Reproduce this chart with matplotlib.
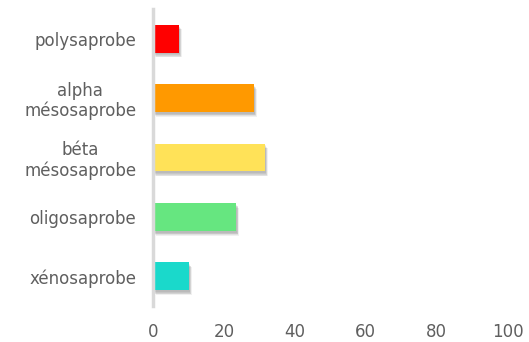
import matplotlib.pyplot as plt
import numpy as np

categories = ["polysaprobe", "alpha\nmésosaprobe", "béta\nmésosaprobe", "oligosaprobe", "xénosaprobe"]
values = [7.3, 28.4, 31.5, 23.4, 10.1]
colors = ["#FF0000", "#FF9900", "#FFE258", "#66E680", "#1AD9CB"]
xticks = [0, 20, 40, 60, 80, 100]

plt.rcParams['font.family'] = ['DejaVu Sans']

fig = plt.figure(figsize=(5.29, 3.42), dpi=100)
ax = fig.add_axes([0.289, 0.105, 0.671, 0.869])

y = np.arange(len(categories))
h = 0.47

# soft shadow: several faint offset layers
for k in range(1, 6):
    ax.barh(y + 0.012 * k + 0.02, values, height=h, left=0.12 * k + 0.2,
            color="black", alpha=0.06, linewidth=0, zorder=1)

ax.barh(y, values, height=h, color=colors, linewidth=0, zorder=2)

ax.set_ylim(4.5, -0.5)
ax.set_xlim(0, 100)
ax.set_xticks(xticks)
ax.set_yticks(y)
ax.set_yticklabels(categories, multialignment="center", linespacing=1.15)

for s in ["top", "right", "bottom"]:
    ax.spines[s].set_visible(False)
ax.spines["left"].set_color("#d9d9d9")
ax.spines["left"].set_linewidth(2.5)

ax.tick_params(axis="both", length=0, colors="#5f5f5f", labelsize=12)
ax.tick_params(axis="y", pad=12)
ax.tick_params(axis="x", pad=12)

fig.savefig("out.png", dpi=100)
